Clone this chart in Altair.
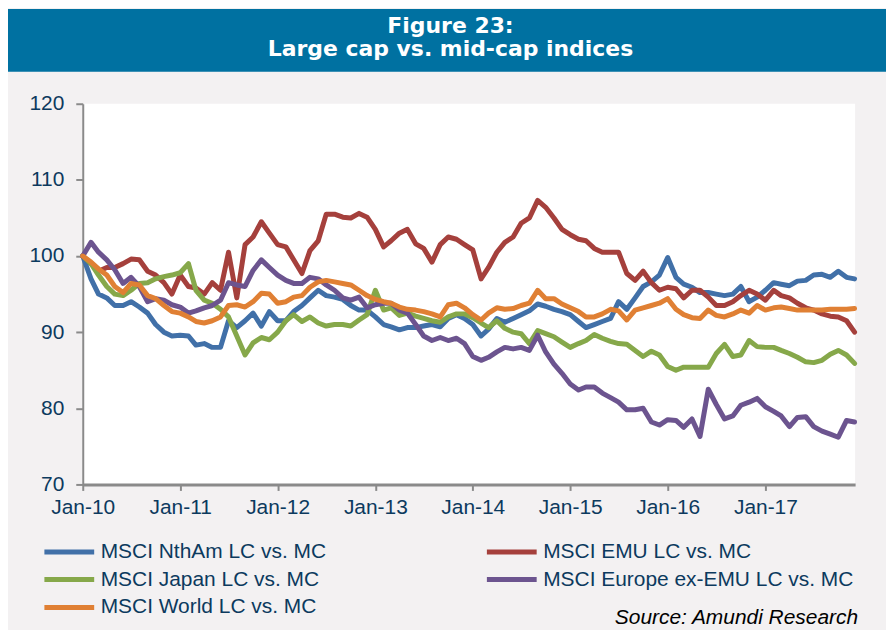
import altair as alt
import pandas as pd

# ---- data (monthly from Jan-2010) ----
dates = pd.date_range("2010-01-01", periods=96, freq="MS").strftime("%Y-%m-%dT00:00:00").tolist()

series_names = [
    "MSCI NthAm LC vs. MC",
    "MSCI EMU LC vs. MC",
    "MSCI Japan LC vs. MC",
    "MSCI Europe ex-EMU LC vs. MC",
    "MSCI World LC vs. MC",
]
colors = ["#4170a8", "#a5403c", "#86a84a", "#6c548f", "#e08034"]

nth_am = [100, 97, 95, 94.5, 93.5, 93.5, 94, 93.3, 92.5, 91,
          90, 89.5, 89.6, 89.5, 88.3, 88.5, 88, 88, 91.5, 90.6,
          91.5, 92.5, 90.8, 92.7, 91.5, 91.5, 92.7, 93.5, 94.5, 95.5,
          94.8, 94.6, 94.3, 93.5, 92.9, 92.9, 92, 91, 90.7, 90.3,
          90.6, 90.6, 90.8, 91, 90.7, 91.8, 92.3, 91.8, 91, 89.5,
          90.4, 91.8, 91.3, 91.8, 92.3, 92.8, 93.7, 93.4, 93, 92.7,
          92.3, 91.4, 90.6, 91, 91.4, 91.8, 94, 93, 94.5, 96,
          96.6, 97.5, 99.8, 97.2, 96.3, 95.9, 95.2, 95.2, 95, 94.8,
          95, 96, 94, 94.6, 95.5, 96.5, 96.3, 96.1, 96.7, 96.8,
          97.5, 97.6, 97.2, 98, 97.2, 97]

emu = [100, 99, 98, 98.5, 98.5, 99, 99.6, 99.5, 98, 97.5,
       96.5, 95, 97.5, 96, 95.8, 95, 96.5, 95.5, 100.5, 94.5,
       101.5, 102.5, 104.5, 103, 101.5, 101.2, 99.5, 97.7, 100.7, 102,
       105.5, 105.5, 105.1, 105, 105.6, 105.1, 103.5, 101.2, 102, 103,
       103.5, 101.6, 101, 99.2, 101.5, 102.5, 102.2, 101.5, 100.8, 97,
       98.5, 100.5, 101.8, 102.5, 104.3, 105, 107.3, 106.4, 105, 103.5,
       102.8, 102.2, 102, 101, 100.5, 100.5, 100.5, 97.7, 96.8, 98,
       96.5, 95.5, 95.9, 95.7, 94.5, 95.5, 95.5, 94.6, 93.5, 93.5,
       94, 94.8, 95.5, 95, 94.2, 95.5, 94.8, 94.5, 93.8, 93.2,
       92.9, 92.4, 92.1, 92, 91.5, 90]

japan = [100, 99, 97.5, 96, 95, 94.8, 95.5, 96.4, 96.5, 97,
         97.3, 97.5, 97.8, 99, 95.5, 94.2, 93.8, 93, 92, 89.5,
         87, 88.6, 89.3, 89, 90, 91.5, 92.3, 91.4, 92, 91.2,
         90.8, 91, 91, 90.8, 91.6, 92.3, 95.5, 92.9, 93.2, 92.2,
         92.5, 92.1, 91.8, 91.5, 91.3, 92, 92.4, 92.4, 91.9, 91.2,
         90.6, 91.5, 90.5, 90, 89.8, 88.5, 90.2, 89.8, 89.4, 88.7,
         88, 88.5, 88.9, 89.7, 89.2, 88.8, 88.5, 88.4, 87.6, 86.8,
         87.5, 87, 85.5, 85, 85.4, 85.4, 85.4, 85.4, 87.2, 88.4,
         86.8, 87, 88.9, 88.1, 88, 88, 87.6, 87.2, 86.7, 86.1,
         86, 86.3, 87.1, 87.6, 87, 85.9]

eur_xemu = [100, 101.8, 100.5, 99.5, 98.2, 96.4, 97.2, 96, 94, 94.4,
            94.2, 93.6, 93.3, 92.5, 92.8, 93.2, 93.5, 94.2, 96.5, 96.2,
            96, 98.1, 99.5, 98.5, 97.5, 96.8, 96.4, 96.4, 97.2, 97,
            96.2, 95.5, 94.5, 94.2, 94.6, 93.2, 93.6, 93.8, 93.8, 92.9,
            92.5, 91, 89.5, 88.9, 89.3, 88.9, 89.2, 88.5, 86.8, 86.3,
            86.7, 87.4, 88, 87.8, 88, 87.6, 89.6, 87.4, 85.8, 84.6,
            83.2, 82.4, 82.8, 82.8, 82, 81.4, 80.8, 79.8, 79.8, 80,
            78.2, 77.8, 78.5, 78.4, 77.5, 78.6, 76.3, 82.5, 80.5, 78.6,
            79, 80.4, 80.8, 81.3, 80.2, 79.6, 79, 77.6, 78.8, 78.9,
            77.6, 77, 76.6, 76.2, 78.4, 78.2]

world = [100, 99.2, 98.3, 97.5, 96, 95.2, 96.4, 96.2, 94.8, 94.4,
         93.5, 92.7, 92.5, 92, 91.4, 91.2, 91.5, 92, 93.5, 93.6,
         93.3, 94, 95.1, 95, 93.8, 94, 94.6, 94.8, 95.9, 96.6,
         96.8, 96.6, 96.4, 96.2, 95.5, 94.8, 94.3, 94, 93.8, 93.3,
         93, 92.9, 92.7, 92.4, 92, 93.6, 93.8, 93.2, 92.3, 91.6,
         92.5, 93.2, 93, 93.1, 93.5, 93.8, 95.5, 94.4, 94.4, 93.7,
         93.2, 92.7, 92, 92, 92.4, 93, 92.8, 91.6, 92.9, 93.2,
         93.5, 93.8, 94.4, 93, 92.3, 91.9, 91.8, 92.9, 92.2, 92,
         92.4, 92.9, 92.5, 93.5, 92.9, 93.2, 93.3, 93.1, 92.9, 92.9,
         92.9, 92.9, 93, 93, 93, 93.1]

y_ticks = [70, 80, 90, 100, 110, 120]
x_tick_years = list(range(2010, 2018))

# ---- build table ----
rows = []
for name, vals in zip(series_names, [nth_am, emu, japan, eur_xemu, world]):
    for d, v in zip(dates, vals):
        rows.append({"date": d, "series": name, "value": v})
df = pd.DataFrame(rows)

NAVY = "#0c3a5e"
GRAY = "#8a8a8a"
FONT = "Liberation Sans"
W, H = 775, 382

lines = alt.Chart(df).mark_line(strokeWidth=5, strokeJoin="round", strokeCap="round").encode(
    x=alt.X(
        "date:T",
        scale=alt.Scale(domain=[alt.DateTime(year=2010, month=1, date=1),
                                alt.DateTime(year=2017, month=12, date=3)]),
        axis=alt.Axis(
            title=None,
            values=[alt.DateTime(year=y, month=1, date=1) for y in x_tick_years],
            format="%b-%y",
            labelFont=FONT, labelFontSize=21, labelColor=NAVY,
            domainColor=GRAY, domainWidth=3,
            tickColor=GRAY, tickSize=6, tickWidth=2,
            labelPadding=6, grid=False, labelFlush=False, labelOverlap=False,
        ),
    ),
    y=alt.Y(
        "value:Q",
        scale=alt.Scale(domain=[70, 120], nice=False, zero=False),
        axis=alt.Axis(
            title=None, values=y_ticks,
            labelFont=FONT, labelFontSize=21, labelColor=NAVY,
            domainColor=GRAY, domainWidth=2,
            tickColor=GRAY, tickSize=7, tickWidth=2,
            labelPadding=12, grid=False,
        ),
    ),
    color=alt.Color(
        "series:N",
        scale=alt.Scale(domain=series_names, range=colors),
        legend=alt.Legend(
            title=None, orient="none", legendX=-24, legendY=439,
            direction="horizontal", columns=2, columnPadding=150, rowPadding=6,
            symbolType="M-4,0H4", symbolSize=156, symbolStrokeWidth=5,
            labelFont=FONT, labelFontSize=21, labelColor=NAVY,
            labelOffset=21, labelLimit=400,
        ),
    ),
)

one = pd.DataFrame({"k": [0]})
banner = alt.Chart(one).mark_rect(color="#0071a1").encode(
    x=alt.value(-75), x2=alt.value(806), y=alt.value(-95), y2=alt.value(-32)
)
title1 = alt.Chart(one).mark_text(
    text="Figure 23:", font="DejaVu Sans", fontSize=22, fontWeight="bold",
    color="white", align="center", baseline="alphabetic"
).encode(x=alt.value(369), y=alt.value(-71))
title2 = alt.Chart(one).mark_text(
    text="Large cap vs. mid-cap indices", font="DejaVu Sans", fontSize=22, fontWeight="bold",
    color="white", align="center", baseline="alphabetic"
).encode(x=alt.value(369), y=alt.value(-48))
source = alt.Chart(one).mark_text(
    text="Source: Amundi Research", font=FONT, fontSize=21, fontStyle="italic",
    color="black", align="right", baseline="middle"
).encode(x=alt.value(W + 3), y=alt.value(516))

chart = alt.layer(banner, title1, title2, lines, source).properties(
    width=W, height=H,
    padding={"left": 75, "top": 95, "right": 31, "bottom": 145},
    autosize=alt.AutoSizeParams(type="none"),
).configure(background="#f3f1f2").configure_view(fill="white", stroke=None)

chart.save("out.html", embed_options={"renderer": "svg", "actions": False})
